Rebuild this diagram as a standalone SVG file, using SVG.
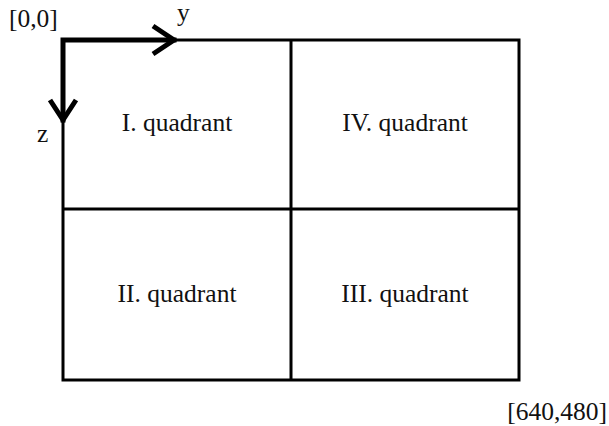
<svg xmlns="http://www.w3.org/2000/svg" width="609" height="426" viewBox="0 0 609 426">
<style>
.t{font-family:"Liberation Serif","Times New Roman",serif;font-size:25.5px;fill:#111}
.c{text-anchor:middle}
.box{fill:none;stroke:#000;stroke-width:3}
.ax{fill:none;stroke:#000;stroke-width:5;stroke-linecap:square}
.hd{stroke-linecap:butt;stroke-linejoin:miter}
</style>
<rect width="609" height="426" fill="#fff"/>
<g id="grid">
<rect class="box" x="63" y="40" width="456" height="340"/>
<line class="box" x1="291" y1="40" x2="291" y2="380"/>
<line class="box" x1="63" y1="209" x2="519" y2="209"/>
</g>
<g id="connectors">
<path class="ax" d="M63 40 H174 M63 40 V120"/>
<path class="ax hd" d="M153 26 L174 40 L153 54"/>
<path class="ax hd" d="M50 100 L63 120 L76 100"/>
</g>
<g id="labels">
<text class="t" x="9" y="27">[0,0]</text>
<text class="t" x="177" y="21">y</text>
<text class="t" x="37" y="142">z</text>
<text class="t" x="607" y="420" text-anchor="end">[640,480]</text>
</g>
<g id="q1"><text class="t c" x="177" y="131">I. quadrant</text></g>
<g id="q4"><text class="t c" x="405" y="131">IV. quadrant</text></g>
<g id="q2"><text class="t c" x="177" y="302">II. quadrant</text></g>
<g id="q3"><text class="t c" x="405" y="302">III. quadrant</text></g>
</svg>
